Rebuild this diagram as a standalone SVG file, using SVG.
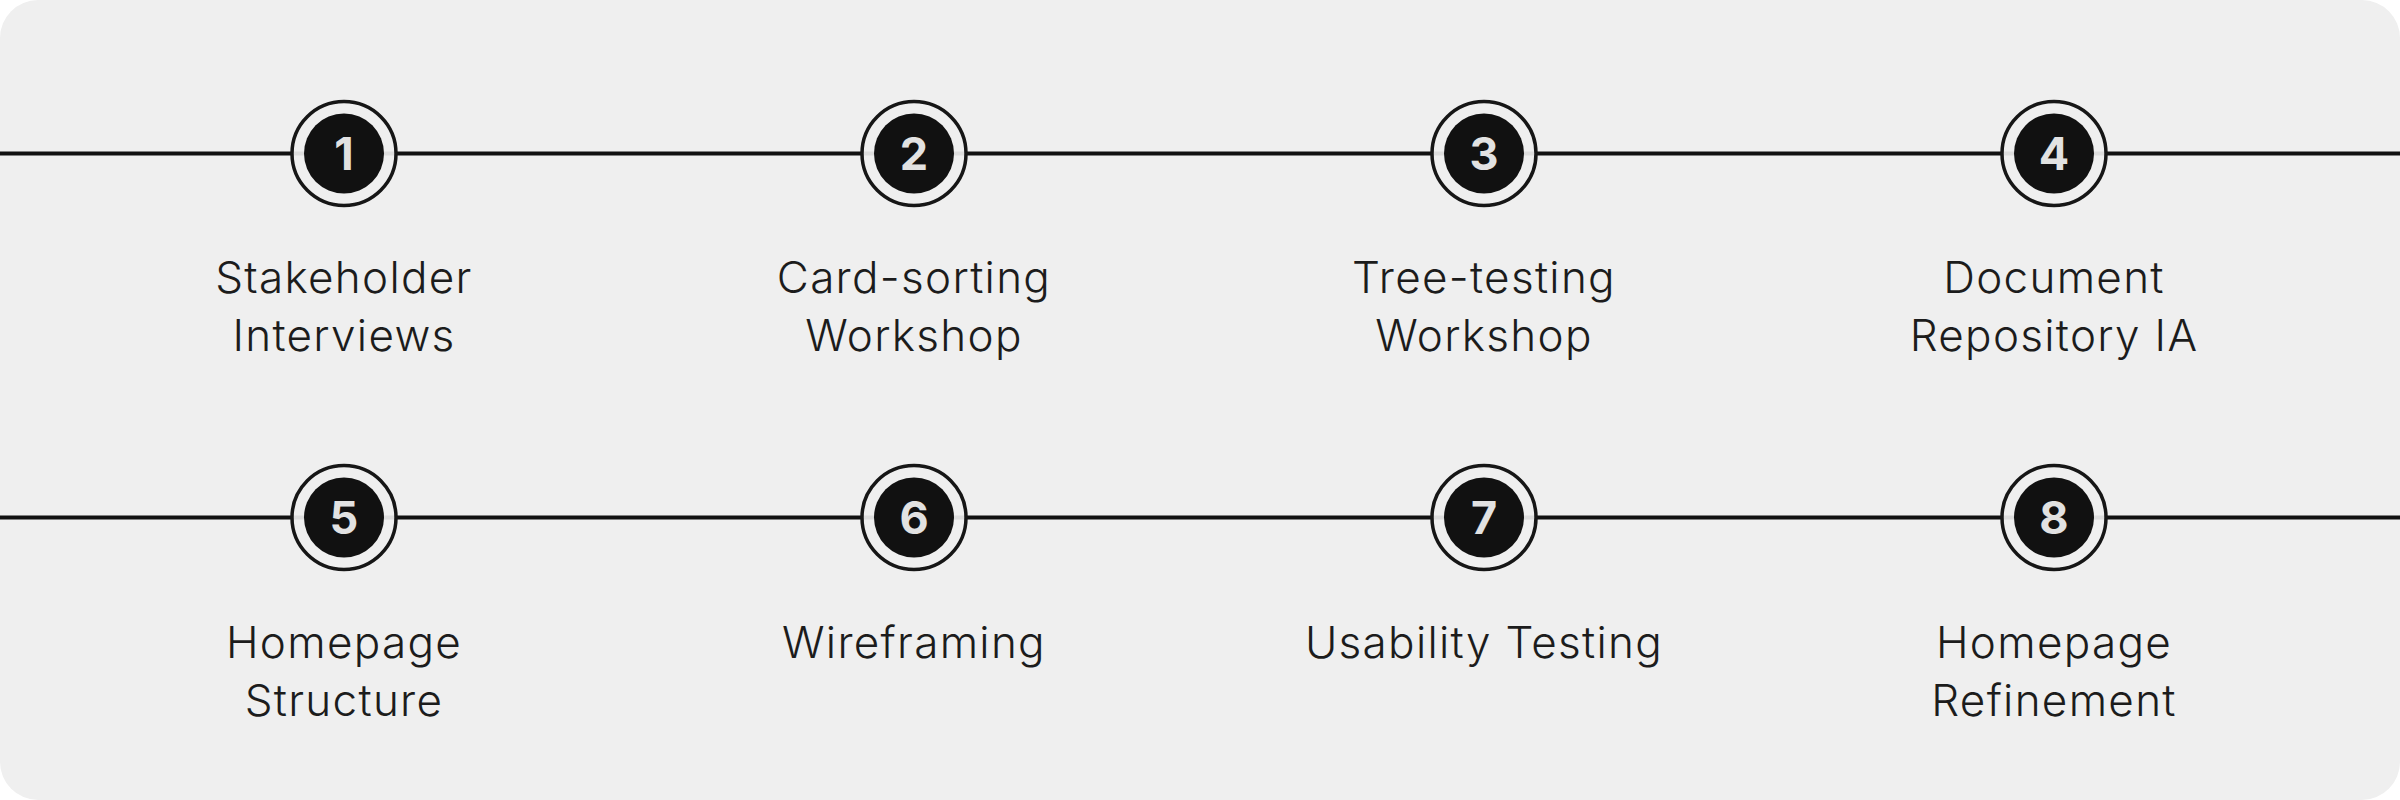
<svg xmlns="http://www.w3.org/2000/svg" width="2400" height="800" viewBox="0 0 2400 800">
<style>
.bg{fill:#efefef}
.track{stroke:#111;stroke-width:4}
.ring{fill:#efefef;fill-opacity:0.92;stroke:#161616;stroke-width:3.5}
.dot{fill:#111}
.num{font-family:Inter,"Liberation Sans",sans-serif;font-weight:700;font-size:45px;fill:#e2e2e2;text-anchor:middle}
.lbl{font-family:Inter,"Liberation Sans",sans-serif;font-weight:300;font-size:44px;letter-spacing:1.3px;fill:#1c1c1c;text-anchor:middle}
</style>
<rect class="bg" x="0" y="0" width="2400" height="800" rx="38"/>
<g id="connectors">
<line class="track" x1="0" y1="153.5" x2="2400" y2="153.5"/>
<line class="track" x1="0" y1="517.5" x2="2400" y2="517.5"/>
</g>
<g id="step1"><circle class="ring" cx="344" cy="153.5" r="52"/><circle class="dot" cx="344" cy="153.5" r="40"/><text class="num" x="344" y="170">1</text><text class="lbl" x="344" y="293">Stakeholder</text><text class="lbl" x="344" y="351">Interviews</text></g>
<g id="step2"><circle class="ring" cx="914" cy="153.5" r="52"/><circle class="dot" cx="914" cy="153.5" r="40"/><text class="num" x="914" y="170">2</text><text class="lbl" x="914" y="293">Card-sorting</text><text class="lbl" x="914" y="351">Workshop</text></g>
<g id="step3"><circle class="ring" cx="1484" cy="153.5" r="52"/><circle class="dot" cx="1484" cy="153.5" r="40"/><text class="num" x="1484" y="170">3</text><text class="lbl" x="1484" y="293">Tree-testing</text><text class="lbl" x="1484" y="351">Workshop</text></g>
<g id="step4"><circle class="ring" cx="2054" cy="153.5" r="52"/><circle class="dot" cx="2054" cy="153.5" r="40"/><text class="num" x="2054" y="170">4</text><text class="lbl" x="2054" y="293">Document</text><text class="lbl" x="2054" y="351">Repository IA</text></g>
<g id="step5"><circle class="ring" cx="344" cy="517.5" r="52"/><circle class="dot" cx="344" cy="517.5" r="40"/><text class="num" x="344" y="534">5</text><text class="lbl" x="344" y="658">Homepage</text><text class="lbl" x="344" y="716">Structure</text></g>
<g id="step6"><circle class="ring" cx="914" cy="517.5" r="52"/><circle class="dot" cx="914" cy="517.5" r="40"/><text class="num" x="914" y="534">6</text><text class="lbl" x="914" y="658">Wireframing</text></g>
<g id="step7"><circle class="ring" cx="1484" cy="517.5" r="52"/><circle class="dot" cx="1484" cy="517.5" r="40"/><text class="num" x="1484" y="534">7</text><text class="lbl" x="1484" y="658">Usability Testing</text></g>
<g id="step8"><circle class="ring" cx="2054" cy="517.5" r="52"/><circle class="dot" cx="2054" cy="517.5" r="40"/><text class="num" x="2054" y="534">8</text><text class="lbl" x="2054" y="658">Homepage</text><text class="lbl" x="2054" y="716">Refinement</text></g>
</svg>
